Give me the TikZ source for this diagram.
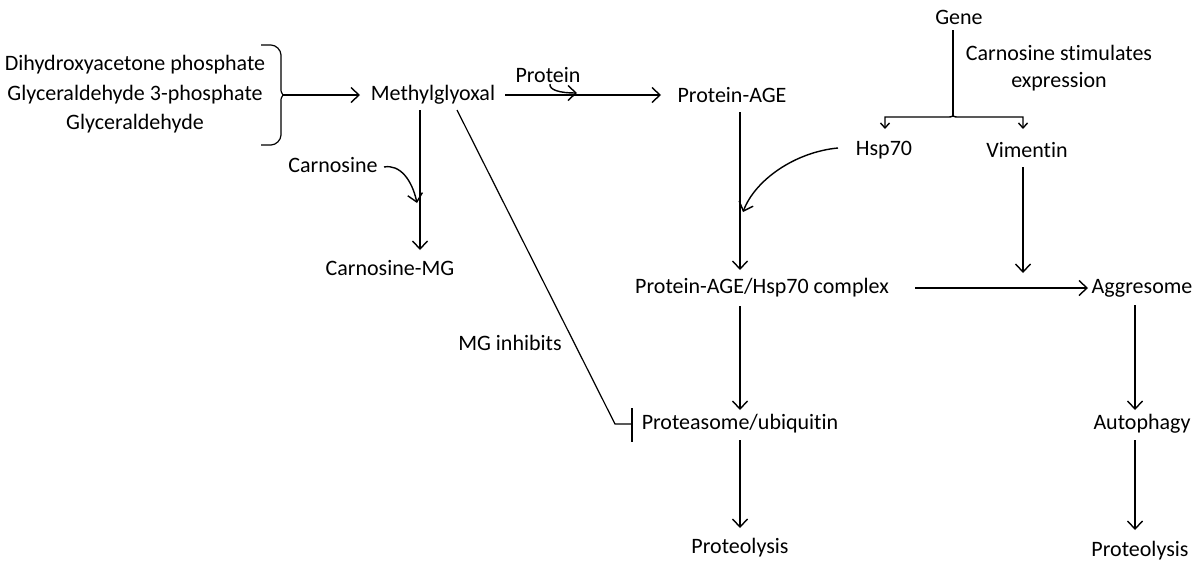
\documentclass[tikz,border=0pt]{standalone}
\usepackage{fontspec}
\setmainfont{Carlito}[Ligatures={NoCommon}]
\usetikzlibrary{arrows.meta}
\begin{document}
\begin{tikzpicture}[x=1pt,y=-1pt,
  lbl/.style={font=\fontsize{22}{27}\selectfont, inner sep=1pt, anchor=center},
  arr/.style={line width=1.4pt, -{Straight Barb[length=8pt,width=15pt,line width=1.4pt]}},
  small/.style={line width=1.4pt, -{Straight Barb[length=5pt,width=9pt,line width=1.4pt]}},
  plain/.style={line width=1.2pt}]
\useasboundingbox (0,0) rectangle (1200,574);
% nodes
\node[lbl] (dhap) at (135,65) {Dihydroxyacetone phosphate};
\node[lbl] (g3p) at (135,95) {Glyceraldehyde 3-phosphate};
\node[lbl] (ga) at (135,124) {Glyceraldehyde};
\node[lbl] (mg) at (433,95) {Methylglyoxal};
\node[lbl] (prot) at (548,75) {Protein};
\node[lbl] (page) at (732,95) {Protein-AGE};
\node[lbl] (carn) at (333,165) {Carnosine};
\node[lbl] (cmg) at (390,268) {Carnosine-MG};
\node[lbl] (gene) at (959,17) {Gene};
\node[lbl, align=center] (stim) at (1059,68) {Carnosine stimulates\\expression};
\node[lbl] (hsp) at (884,150) {Hsp70};
\node[lbl] (vim) at (1027,150) {Vimentin};
\node[lbl] (cplx) at (762,288) {Protein-AGE/Hsp70 complex};
\node[lbl] (aggr) at (1142,288) {Aggresome};
\node[lbl] (mginh) at (510,343) {MG inhibits};
\node[lbl] (prts) at (740,424) {Proteasome/ubiquitin};
\node[lbl] (auto) at (1142,424) {Autophagy};
\node[lbl] (pl1) at (740,548) {Proteolysis};
\node[lbl] (pl2) at (1140,551) {Proteolysis};
% coordinates
\coordinate (btop) at (261,45);
\coordinate (bbot) at (261,145);
\coordinate (btip) at (283,95);
\coordinate (mgin) at (360,95);
\coordinate (mgout) at (505,95);
\coordinate (pagein) at (661,95);
\coordinate (ps) at (550,84);
\coordinate (pjoin) at (577,93);
\coordinate (mgdown) at (420,110);
\coordinate (cmgtop) at (420,250);
\coordinate (cs) at (384,167);
\coordinate (cjoin) at (417,203);
\coordinate (inhs) at (457,110);
\coordinate (inhc) at (615,424);
\coordinate (inhb) at (632,424);
\coordinate (pagedown) at (740,112);
\coordinate (cplxtop) at (740,270);
\coordinate (hs) at (838,148);
\coordinate (hjoin) at (743,212);
\coordinate (genebot) at (953,30);
\coordinate (split) at (953,116);
\coordinate (hspt) at (885,129);
\coordinate (vimt) at (1023,129);
\coordinate (vimb) at (1023,167);
\coordinate (aggv) at (1023,273);
\coordinate (cplxr) at (915,288);
\coordinate (aggl) at (1088,288);
\coordinate (cplxb) at (740,306);
\coordinate (prtst) at (740,410);
\coordinate (prtsb) at (740,440);
\coordinate (pl1t) at (740,528);
\coordinate (aggb) at (1135,305);
\coordinate (autot) at (1135,410);
\coordinate (autob) at (1135,440);
\coordinate (pl2t) at (1135,530);
% brace
\draw[plain] (btop) -- ++(10,0) .. controls ++(5,0) and ++(0,-5) .. ++(10,10)
  -- (281,88) .. controls (281,92) .. (btip)
  .. controls (281,98) .. (281,102) -- (281,135)
  .. controls ++(0,5) and ++(5,0) .. ++(-10,10) -- (bbot);
\draw[arr] (btip) -- (mgin);
% main
\draw[arr] (mgout) -- (pagein);
\draw[arr] (ps) .. controls (549,90) and (560,93) .. (pjoin);
\draw[arr] (mgdown) -- (cmgtop);
\draw[arr] (cs) .. controls (400,164) and (412,180) .. (cjoin);
\draw[plain] (inhs) -- (inhc) -- (inhb);
\draw[plain] (632,408) -- (632,442);
\draw[arr] (pagedown) -- (cplxtop);
\draw[arr] (hs) .. controls (795,152) and (755,180) .. (hjoin);
% gene split
\draw[plain] (genebot) -- (953,108) .. controls (953,113) .. (split);
\draw[small] (split) .. controls (951,117) .. (946,117) -- (885,117) -- (hspt);
\draw[small] (split) .. controls (955,117) .. (960,117) -- (1023,117) -- (vimt);
\draw[arr] (vimb) -- (aggv);
\draw[arr] (cplxr) -- (aggl);
\draw[arr] (cplxb) -- (prtst);
\draw[arr] (prtsb) -- (pl1t);
\draw[arr] (aggb) -- (autot);
\draw[arr] (autob) -- (pl2t);
\end{tikzpicture}
\end{document}
